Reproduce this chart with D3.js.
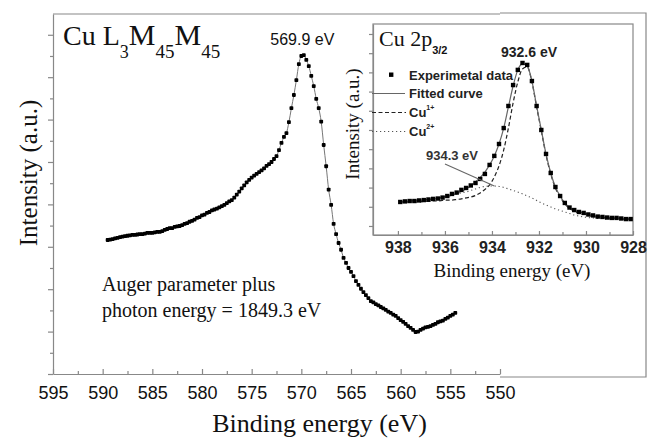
<!DOCTYPE html>
<html>
<head>
<meta charset="utf-8">
<script src="https://cdn.jsdelivr.net/npm/d3@7"></script>
<style>
  body { margin: 0; background: #fff; }
  svg { display: block; }
</style>
</head>
<body>
<div id="chart"></div>
<script>
// ---- main panel: Cu LMM Auger spectrum ----
var mainTicks = [595, 590, 585, 580, 575, 570, 565, 560, 555, 550];
var mainMinorTicks = [592.5, 587.5, 582.5, 577.5, 572.5, 567.5, 562.5, 557.5, 552.5];
var mainYTicks = [0, 1, 2, 3, 4, 5, 6, 7, 8];
var mainYMinor = [0.5, 1.5, 2.5, 3.5, 4.5, 5.5, 6.5, 7.5];

var mainEnergy = [
  589.5, 589.25, 589, 588.75, 588.5, 588.25, 588, 587.75, 587.5, 587.25,
  587, 586.75, 586.5, 586.25, 586, 585.75, 585.5, 585.25, 585, 584.75,
  584.5, 584.25, 584, 583.75, 583.5, 583.25, 583, 582.75, 582.5, 582.25,
  582, 581.75, 581.5, 581.25, 581, 580.75, 580.5, 580.25, 580, 579.75,
  579.5, 579.25, 579, 578.75, 578.5, 578.25, 578, 577.75, 577.5, 577.25,
  577, 576.75, 576.5, 576.25, 576, 575.75, 575.5, 575.25, 575, 574.75,
  574.5, 574.25, 574, 573.75, 573.5, 573.25, 573, 572.75, 572.5, 572.25,
  572, 571.75, 571.5, 571.25, 571, 570.75, 570.5, 570.25, 570, 569.75,
  569.5, 569.25, 569, 568.75, 568.5, 568.25, 568, 567.75, 567.5, 567.25,
  567, 566.75, 566.5, 566.25, 566, 565.75, 565.5, 565.25, 565, 564.75,
  564.5, 564.25, 564, 563.75, 563.5, 563.25, 563, 562.75, 562.5, 562.25,
  562, 561.75, 561.5, 561.25, 561, 560.75, 560.5, 560.25, 560, 559.75,
  559.5, 559.25, 559, 558.75, 558.5, 558.25, 558, 557.75, 557.5, 557.25,
  557, 556.75, 556.5, 556.25, 556, 555.75, 555.5, 555.25, 555, 554.75,
  554.5
];
var mainIntensity = [
  3.16, 3.17, 3.18, 3.20, 3.21, 3.23, 3.24, 3.25, 3.26, 3.27,
  3.28, 3.28, 3.29, 3.30, 3.30, 3.31, 3.33, 3.33, 3.33, 3.34,
  3.35, 3.35, 3.37, 3.40, 3.42, 3.44, 3.44, 3.47, 3.48, 3.49,
  3.51, 3.54, 3.56, 3.59, 3.61, 3.64, 3.68, 3.70, 3.74, 3.76,
  3.80, 3.82, 3.86, 3.88, 3.90, 3.93, 3.96, 3.99, 4.03, 4.07,
  4.10, 4.16, 4.23, 4.30, 4.38, 4.45, 4.52, 4.58, 4.63, 4.68,
  4.72, 4.76, 4.80, 4.85, 4.91, 4.95, 5.00, 5.07, 5.14, 5.28,
  5.45, 5.59, 5.68, 5.94, 6.27, 6.58, 6.93, 7.31, 7.50, 7.52,
  7.41, 7.26, 7.03, 6.79, 6.49, 6.27, 5.95, 5.40, 4.90, 4.35,
  3.99, 3.54, 3.30, 3.09, 2.93, 2.74, 2.62, 2.50, 2.41, 2.31,
  2.19, 2.10, 2.01, 1.93, 1.86, 1.79, 1.72, 1.69, 1.65, 1.62,
  1.58, 1.55, 1.51, 1.47, 1.44, 1.40, 1.37, 1.32, 1.27, 1.23,
  1.18, 1.13, 1.09, 1.04, 0.99, 1.00, 1.04, 1.07, 1.10, 1.11,
  1.13, 1.16, 1.18, 1.22, 1.24, 1.26, 1.30, 1.33, 1.37, 1.40,
  1.44
];

// ---- inset: Cu 2p3/2 ----
var insetTicks = [938, 936, 934, 932, 930, 928];
var insetMinorTicks = [937, 935, 933, 931, 929];
var insetYTicks = [0, 1, 2, 3, 4, 5, 6, 7, 8, 9, 10];

var insetEnergy = [
  937.9, 937.7, 937.5, 937.3, 937.1, 936.9, 936.7, 936.5, 936.3, 936.1,
  935.9, 935.7, 935.5, 935.3, 935.1, 934.9, 934.7, 934.5, 934.3, 934.1,
  933.9, 933.7, 933.5, 933.3, 933.1, 932.9, 932.7, 932.5, 932.3, 932.1,
  931.9, 931.7, 931.5, 931.3, 931.1, 930.9, 930.7, 930.5, 930.3, 930.1,
  929.9, 929.7, 929.5, 929.3, 929.1, 928.9, 928.7, 928.5, 928.3, 928.1
];
var insetData = [
  1.25, 1.28, 1.30, 1.30, 1.33, 1.35, 1.38, 1.41, 1.43, 1.48,
  1.56, 1.67, 1.74, 1.88, 1.98, 2.11, 2.24, 2.45, 2.71, 3.18,
  3.65, 4.27, 5.10, 6.25, 7.34, 8.13, 8.49, 8.39, 7.55, 6.25,
  5.00, 3.75, 2.76, 2.03, 1.56, 1.20, 0.96, 0.83, 0.73, 0.68,
  0.60, 0.55, 0.49, 0.47, 0.44, 0.42, 0.42, 0.39, 0.36, 0.36
];
var insetFit = [
  1.25, 1.28, 1.30, 1.31, 1.33, 1.35, 1.38, 1.41, 1.43, 1.48,
  1.54, 1.61, 1.69, 1.80, 1.93, 2.08, 2.29, 2.53, 2.81, 3.18,
  3.65, 4.27, 5.10, 6.20, 7.29, 8.13, 8.44, 8.33, 7.55, 6.25,
  5.00, 3.75, 2.76, 2.03, 1.56, 1.20, 0.96, 0.83, 0.73, 0.68,
  0.60, 0.55, 0.49, 0.47, 0.44, 0.42, 0.42, 0.39, 0.36, 0.36
];
var insetCu1 = [
  1.25, 1.25, 1.25, 1.25, 1.25, 1.28, 1.28, 1.30, 1.30, 1.33,
  1.35, 1.35, 1.38, 1.41, 1.46, 1.51, 1.59, 1.72, 1.90, 2.14,
  2.55, 3.13, 3.96, 5.10, 6.41, 7.50, 8.18, 8.28, 7.50, 6.20,
  4.95, 3.70, 2.71, 1.98, 1.51, 1.15, 0.91, 0.78, 0.68, 0.63,
  0.55, 0.49, 0.47, 0.44, 0.42, 0.39, 0.39, 0.36, 0.36, 0.36
];
var insetCu2 = [
  1.25, 1.28, 1.30, 1.33, 1.35, 1.38, 1.41, 1.43, 1.46, 1.51,
  1.56, 1.61, 1.67, 1.72, 1.77, 1.85, 1.93, 2.01, 2.06, 2.08,
  2.08, 2.06, 2.01, 1.93, 1.85, 1.77, 1.67, 1.56, 1.46, 1.33,
  1.20, 1.09, 0.99, 0.89, 0.81, 0.73, 0.65, 0.57, 0.52, 0.47,
  0.44, 0.42, 0.39, 0.39, 0.36, 0.36, 0.36, 0.36, 0.36, 0.36
];

var W = 648, H = 440;
var axisColor = "#888";
var SERIF = "'Liberation Serif', Tinos, 'Times New Roman', 'DejaVu Serif', serif";
var SANS = "'Liberation Sans', Arimo, Arial, 'DejaVu Sans', sans-serif";

var svg = d3.select("#chart").append("svg")
    .attr("width", W)
    .attr("height", H);

// scales
var x = d3.scaleLinear().domain([595, 550]).range([53, 500]);
var y = d3.scaleLinear().domain([0, 8.49]).range([374, 14]);

var xi = d3.scaleLinear().domain([939.06, 928]).range([373, 633]);
var yi = d3.scaleLinear().domain([-0.47, 10.52]).range([235, 24]);

function styleAxis(g) {
    g.select(".domain").attr("stroke", axisColor).attr("stroke-width", 1.2);
    g.selectAll(".tick line").attr("stroke", axisColor).attr("stroke-width", 1.2);
}

// outer frame pieces (top of main panel + box round the inset area)
svg.append("line")
    .attr("x1", x(595)).attr("x2", x(550))
    .attr("y1", y(8.49)).attr("y2", y(8.49))
    .attr("stroke", axisColor).attr("stroke-width", 1.2);
svg.append("path")
    .attr("d", "M" + x(550) + ",13H646V377H" + x(550))
    .attr("fill", "none")
    .attr("stroke", axisColor).attr("stroke-width", 1.2);

// main x axis
var gx = svg.append("g")
    .attr("transform", "translate(0," + y(0) + ")")
    .call(d3.axisBottom(x).tickValues(mainTicks).tickSizeInner(-5).tickSizeOuter(0).tickPadding(12).tickFormat(d3.format("d")))
    .call(styleAxis);
gx.selectAll("text")
    .style("font-family", SANS)
    .attr("font-size", 18)
    .attr("fill", "#111");
svg.append("g")
    .attr("transform", "translate(0," + y(0) + ")")
    .call(d3.axisBottom(x).tickValues(mainMinorTicks).tickSizeInner(-3).tickSizeOuter(0).tickFormat(""))
    .call(styleAxis)
    .select(".domain").remove();

// main y axis (no labels)
svg.append("g")
    .attr("transform", "translate(" + x(595) + ",0)")
    .call(d3.axisLeft(y).tickValues(mainYTicks).tickSizeInner(5).tickSizeOuter(0).tickFormat(""))
    .call(styleAxis);
svg.append("g")
    .attr("transform", "translate(" + x(595) + ",0)")
    .call(d3.axisLeft(y).tickValues(mainYMinor).tickSizeInner(3).tickSizeOuter(0).tickFormat(""))
    .call(styleAxis)
    .select(".domain").remove();

// main curve
var mainPts = mainEnergy.map(function (e, i) { return [e, mainIntensity[i]]; });
svg.append("path")
    .datum(mainPts)
    .attr("fill", "none")
    .attr("stroke", "#777")
    .attr("stroke-width", 1)
    .attr("d", d3.line()
        .x(function (d) { return x(d[0]); })
        .y(function (d) { return y(d[1]); })
        .curve(d3.curveMonotoneX));
svg.append("g")
    .selectAll("rect")
    .data(mainPts)
    .enter()
    .append("rect")
    .attr("x", function (d) { return x(d[0]) - 1.9; })
    .attr("y", function (d) { return y(d[1]) - 1.9; })
    .attr("width", 3.8)
    .attr("height", 3.8)
    .attr("rx", 0.8)
    .attr("fill", "#000");

// main texts
var title = svg.append("text")
    .style("font-family", SERIF)
    .attr("x", 63).attr("y", 45)
    .attr("font-size", 28)
    .attr("fill", "#111");
title.append("tspan").text("Cu L");
title.append("tspan").attr("font-size", 18).attr("dy", 13).text("3");
title.append("tspan").attr("font-size", 30).attr("dy", -13).text("M");
title.append("tspan").attr("font-size", 19).attr("dy", 13).text("45");
title.append("tspan").attr("font-size", 30).attr("dy", -13).text("M");
title.append("tspan").attr("font-size", 19).attr("dy", 13).text("45");

svg.append("text")
    .style("font-family", SANS)
    .attr("x", x(569.9)).attr("y", 45)
    .attr("text-anchor", "middle")
    .attr("font-size", 16)
    .attr("fill", "#111")
    .text("569.9 eV");

svg.append("text")
    .style("font-family", SERIF)
    .attr("transform", "translate(37,173) rotate(-90)")
    .attr("text-anchor", "middle")
    .attr("font-size", 25)
    .attr("fill", "#111")
    .text("Intensity (a.u.)");

svg.append("text")
    .style("font-family", SERIF)
    .attr("x", (x(595) + x(550)) / 2 + 43).attr("y", 432)
    .attr("text-anchor", "middle")
    .attr("font-size", 26)
    .attr("fill", "#111")
    .text("Binding energy (eV)");

svg.append("text")
    .style("font-family", SERIF)
    .attr("x", 102).attr("y", 291)
    .attr("font-size", 20)
    .attr("fill", "#111")
    .text("Auger parameter plus");
svg.append("text")
    .style("font-family", SERIF)
    .attr("x", 102).attr("y", 317)
    .attr("font-size", 20)
    .attr("fill", "#111")
    .text("photon energy = 1849.3 eV");

// ---- inset ----
var inset = svg.append("g");

inset.append("rect")
    .attr("x", xi(939.06)).attr("y", yi(10.52))
    .attr("width", xi(928) - xi(939.06))
    .attr("height", yi(-0.47) - yi(10.52))
    .attr("fill", "#fff")
    .attr("stroke", axisColor).attr("stroke-width", 1.2);

var gxi = inset.append("g")
    .attr("transform", "translate(0," + yi(-0.47) + ")")
    .call(d3.axisBottom(xi).tickValues(insetTicks).tickSizeInner(-4).tickSizeOuter(0).tickPadding(7).tickFormat(d3.format("d")))
    .call(styleAxis);
gxi.selectAll("text")
    .style("font-family", SANS)
    .attr("font-size", 16)
    .attr("font-weight", "bold")
    .attr("fill", "#222");
inset.append("g")
    .attr("transform", "translate(0," + yi(-0.47) + ")")
    .call(d3.axisBottom(xi).tickValues(insetMinorTicks).tickSizeInner(-3).tickSizeOuter(0).tickFormat(""))
    .call(styleAxis)
    .select(".domain").remove();

inset.append("g")
    .attr("transform", "translate(" + xi(939.06) + ",0)")
    .call(d3.axisLeft(yi).tickValues(insetYTicks).tickSizeInner(4).tickSizeOuter(0).tickFormat(""))
    .call(styleAxis);

function insetLine(vals) {
    return d3.line()
        .x(function (d, i) { return xi(insetEnergy[i]); })
        .y(function (d) { return yi(d); })
        .curve(d3.curveMonotoneX)(vals);
}

inset.append("path")
    .attr("d", insetLine(insetCu2))
    .attr("fill", "none")
    .attr("stroke", "#555")
    .attr("stroke-width", 1.1)
    .attr("stroke-dasharray", "1.2,2.8");
inset.append("path")
    .attr("d", insetLine(insetCu1))
    .attr("fill", "none")
    .attr("stroke", "#222")
    .attr("stroke-width", 1.2)
    .attr("stroke-dasharray", "4,2.5");
inset.append("path")
    .attr("d", insetLine(insetFit))
    .attr("fill", "none")
    .attr("stroke", "#666")
    .attr("stroke-width", 1.2);

inset.append("g")
    .selectAll("rect")
    .data(insetData)
    .enter()
    .append("rect")
    .attr("x", function (d, i) { return xi(insetEnergy[i]) - 2.2; })
    .attr("y", function (d) { return yi(d) - 2.2; })
    .attr("width", 4.4)
    .attr("height", 4.4)
    .attr("fill", "#000");

// inset labels
var it = inset.append("text")
    .style("font-family", SERIF)
    .attr("x", 379).attr("y", 46)
    .attr("font-size", 22)
    .attr("fill", "#111");
it.append("tspan").text("Cu 2p");
it.append("tspan")
    .style("font-family", SANS)
    .attr("font-size", 11)
    .attr("font-weight", "bold")
    .attr("dy", 8)
    .text("3/2");

inset.append("text")
    .style("font-family", SANS)
    .attr("x", 529).attr("y", 57)
    .attr("text-anchor", "middle")
    .attr("font-size", 14)
    .attr("font-weight", "bold")
    .attr("fill", "#222")
    .text("932.6 eV");

inset.append("text")
    .style("font-family", SANS)
    .attr("x", 452).attr("y", 160)
    .attr("text-anchor", "middle")
    .attr("font-size", 13)
    .attr("font-weight", "bold")
    .attr("fill", "#333")
    .text("934.3 eV");
inset.append("line")
    .attr("x1", 445).attr("y1", 164)
    .attr("x2", xi(933.9)).attr("y2", yi(insetData[19]) + 21)
    .attr("stroke", "#666").attr("stroke-width", 1.1);

inset.append("text")
    .style("font-family", SERIF)
    .attr("x", 512).attr("y", 277)
    .attr("text-anchor", "middle")
    .attr("font-size", 19)
    .attr("fill", "#111")
    .text("Binding energy (eV)");

inset.append("text")
    .style("font-family", SERIF)
    .attr("transform", "translate(359,124) rotate(-90)")
    .attr("text-anchor", "middle")
    .attr("font-size", 19)
    .attr("fill", "#111")
    .text("Intensity (a.u.)");

// legend
var legendY = [80, 98, 117, 136];
inset.append("rect")
    .attr("x", 389).attr("y", legendY[0] - 7.5)
    .attr("width", 4.4).attr("height", 4.4)
    .attr("fill", "#000");
inset.append("line")
    .attr("x1", 372).attr("x2", 405)
    .attr("y1", legendY[1] - 4.5).attr("y2", legendY[1] - 4.5)
    .attr("stroke", "#666").attr("stroke-width", 1.2);
inset.append("line")
    .attr("x1", 372).attr("x2", 406)
    .attr("y1", legendY[2] - 4.5).attr("y2", legendY[2] - 4.5)
    .attr("stroke", "#222").attr("stroke-width", 1.2)
    .attr("stroke-dasharray", "4,2.5");
inset.append("line")
    .attr("x1", 372).attr("x2", 406)
    .attr("y1", legendY[3] - 4.5).attr("y2", legendY[3] - 4.5)
    .attr("stroke", "#555").attr("stroke-width", 1.1)
    .attr("stroke-dasharray", "1.2,2.8");

var legendText = ["Experimetal data", "Fitted curve"];
legendText.forEach(function (t, i) {
    inset.append("text")
        .style("font-family", SANS)
        .attr("x", 409).attr("y", legendY[i])
        .attr("font-size", 13)
        .attr("font-weight", "bold")
        .attr("fill", "#222")
        .text(t);
});
var legendSup = ["1+", "2+"];
legendSup.forEach(function (s, i) {
    var t = inset.append("text")
        .style("font-family", SANS)
        .attr("x", 409).attr("y", legendY[i + 2])
        .attr("font-size", 13)
        .attr("font-weight", "bold")
        .attr("fill", "#222");
    t.append("tspan").text("Cu");
    t.append("tspan").attr("font-size", 7).attr("dy", -7).text(s);
});
</script>
</body>
</html>
